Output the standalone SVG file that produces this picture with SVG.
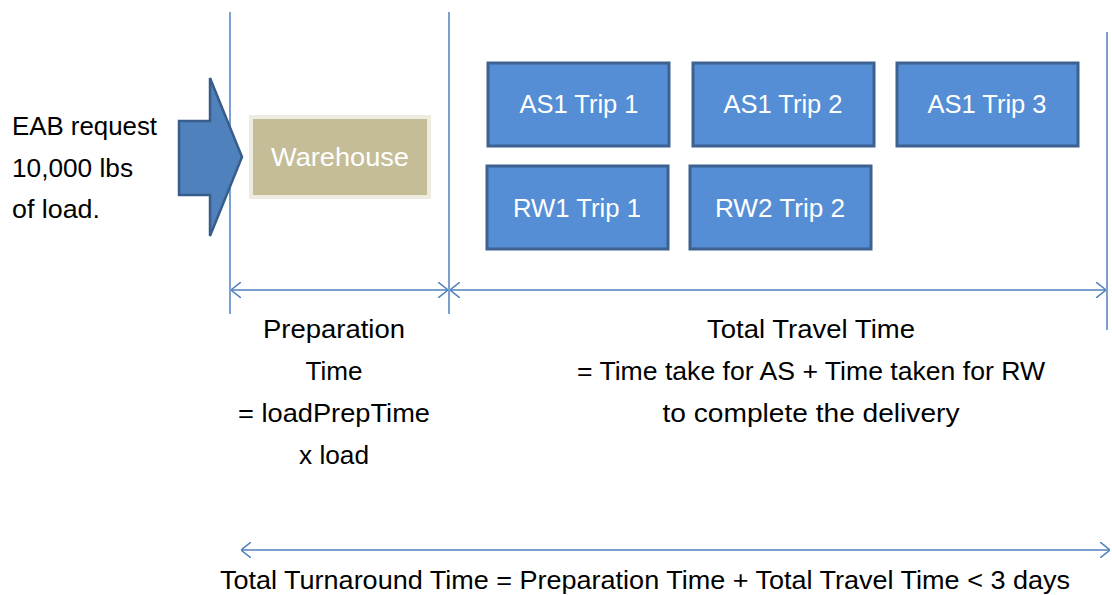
<svg xmlns="http://www.w3.org/2000/svg" width="1112" height="595" viewBox="0 0 1112 595">
<style>
.t{font-family:"Liberation Sans",Arial,sans-serif;font-size:26.5px;fill:#000}
.w{font-family:"Liberation Sans",Arial,sans-serif;font-size:26.5px;fill:#fff;text-anchor:middle}
.c{text-anchor:middle}
.box{fill:#558ED5;stroke:#3D6190;stroke-width:3}
.ln{stroke:#4F81BD;stroke-width:1.5;fill:none}
</style>
<defs>
<marker id="ah" viewBox="0 0 10 16" refX="10" refY="8" markerWidth="10" markerHeight="16" markerUnits="userSpaceOnUse" orient="auto-start-reverse">
<path d="M0,0 L10,8 L0,16" fill="none" stroke="#4F81BD" stroke-width="1.5"/>
</marker>
</defs>
<rect width="1112" height="595" fill="#fff"/>
<g id="connectors">
<line class="ln" x1="230" y1="12" x2="230" y2="314"/>
<line class="ln" x1="449" y1="12" x2="449" y2="314"/>
<line class="ln" x1="1107" y1="32" x2="1107" y2="330"/>
<line class="ln" x1="231" y1="290" x2="448" y2="290" marker-start="url(#ah)" marker-end="url(#ah)"/>
<line class="ln" x1="450" y1="290" x2="1106" y2="290" marker-start="url(#ah)" marker-end="url(#ah)"/>
<line class="ln" x1="241" y1="550" x2="1110" y2="550" marker-start="url(#ah)" marker-end="url(#ah)"/>
</g>
<g id="request">
<path d="M179,121 L210,121 L210,78 L242,157 L210,236 L210,195 L179,195 Z" fill="#4F81BD" stroke="#385D8A" stroke-width="2.5"/>
<text class="t" x="12" y="135" textLength="145" lengthAdjust="spacingAndGlyphs">EAB request</text>
<text class="t" x="12" y="177" textLength="121" lengthAdjust="spacingAndGlyphs">10,000 lbs</text>
<text class="t" x="12" y="218" textLength="88" lengthAdjust="spacingAndGlyphs">of load.</text>
</g>
<g id="warehouse">
<rect x="251" y="117" width="178" height="80" fill="#C4BD97" stroke="#EEECE1" stroke-width="4"/>
<text class="w" x="340" y="166" textLength="138" lengthAdjust="spacingAndGlyphs">Warehouse</text>
</g>
<g id="as1trip1">
<rect class="box" x="488" y="63" width="181" height="83"/>
<text class="w" x="579" y="113" textLength="119" lengthAdjust="spacingAndGlyphs">AS1 Trip 1</text>
</g>
<g id="as1trip2">
<rect class="box" x="693" y="63" width="181" height="83"/>
<text class="w" x="783" y="113" textLength="119" lengthAdjust="spacingAndGlyphs">AS1 Trip 2</text>
</g>
<g id="as1trip3">
<rect class="box" x="897" y="63" width="181" height="83"/>
<text class="w" x="987" y="113" textLength="119" lengthAdjust="spacingAndGlyphs">AS1 Trip 3</text>
</g>
<g id="rw1trip1">
<rect class="box" x="487" y="166" width="181" height="83"/>
<text class="w" x="577" y="217" textLength="128" lengthAdjust="spacingAndGlyphs">RW1 Trip 1</text>
</g>
<g id="rw2trip2">
<rect class="box" x="690" y="166" width="181" height="83"/>
<text class="w" x="780" y="217" textLength="130" lengthAdjust="spacingAndGlyphs">RW2 Trip 2</text>
</g>
<g id="prep-label">
<text class="t c" x="334" y="338" textLength="142" lengthAdjust="spacingAndGlyphs">Preparation</text>
<text class="t c" x="334" y="380" textLength="57" lengthAdjust="spacingAndGlyphs">Time</text>
<text class="t c" x="334" y="422" textLength="192" lengthAdjust="spacingAndGlyphs">= loadPrepTime</text>
<text class="t c" x="334" y="464" textLength="70" lengthAdjust="spacingAndGlyphs">x load</text>
</g>
<g id="travel-label">
<text class="t c" x="811" y="338" textLength="208" lengthAdjust="spacingAndGlyphs">Total Travel Time</text>
<text class="t c" x="811" y="380" textLength="468" lengthAdjust="spacingAndGlyphs">= Time take for AS + Time taken for RW</text>
<text class="t c" x="811" y="422" textLength="297" lengthAdjust="spacingAndGlyphs">to complete the delivery</text>
</g>
<g id="total-label">
<text class="t c" x="645" y="589" textLength="850" lengthAdjust="spacingAndGlyphs">Total Turnaround Time = Preparation Time + Total Travel Time &lt; 3 days</text>
</g>
</svg>
